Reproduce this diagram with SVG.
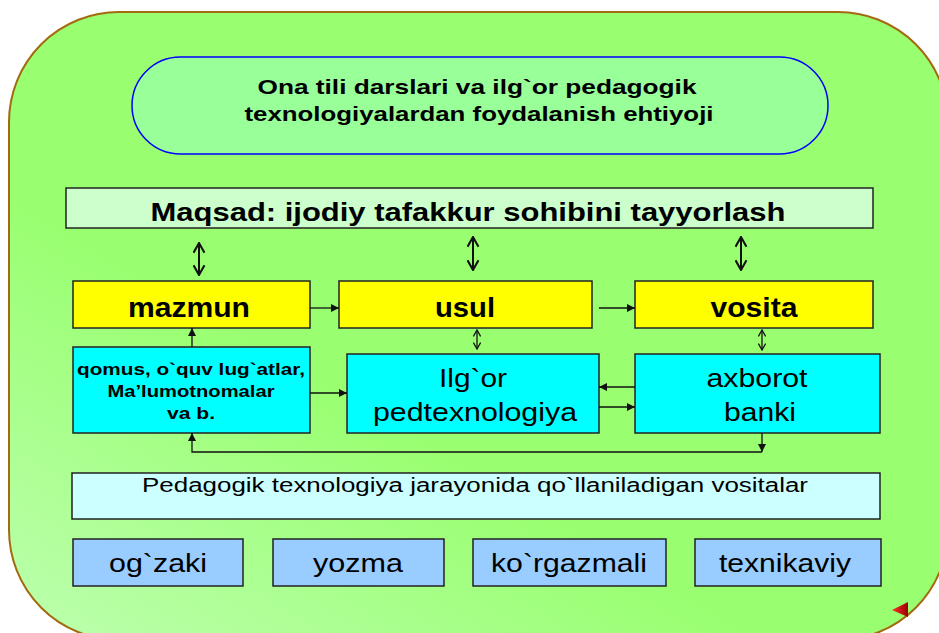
<svg xmlns="http://www.w3.org/2000/svg" width="939" height="633" viewBox="0 0 939 633">
<style>
  text { font-family: "Liberation Sans", Arial, sans-serif; fill: #000; text-anchor: middle; }
  .b { font-weight: bold; }
  .box { stroke: #222; stroke-width: 1.5; }
  .yel { fill: #FFFF00; }
  .cyan { fill: #00FFFF; }
  .blue { fill: #99CCFF; }
  .conn { stroke: #111; stroke-width: 1.3; fill: none; }
  .dbl { stroke: #111; stroke-width: 2; fill: none; }
</style>
<defs>
  <linearGradient id="bg" x1="0" y1="1" x2="0.35" y2="0.6">
    <stop offset="0" stop-color="#BDFFB0"/>
    <stop offset="1" stop-color="#99FF70"/>
  </linearGradient>
  <linearGradient id="red" x1="0" y1="0" x2="1" y2="0">
    <stop offset="0" stop-color="#FF3030"/>
    <stop offset="1" stop-color="#990000"/>
  </linearGradient>
  <marker id="ah" viewBox="0 0 10 10" refX="10" refY="5" markerWidth="8" markerHeight="8" markerUnits="userSpaceOnUse" orient="auto">
    <path d="M0,0 L10,5 L0,10 z" fill="#111"/>
  </marker>
  <marker id="ov" viewBox="0 0 10 10" refX="9" refY="5" markerWidth="13" markerHeight="13" markerUnits="userSpaceOnUse" orient="auto-start-reverse">
    <path d="M1.5,0.8 L9,5 L1.5,9.2" fill="none" stroke="#111" stroke-width="1.6"/>
  </marker>
  <marker id="ovs" viewBox="0 0 10 10" refX="9" refY="5" markerWidth="8" markerHeight="8" markerUnits="userSpaceOnUse" orient="auto-start-reverse">
    <path d="M1,0.5 L9,5 L1,9.5" fill="none" stroke="#111" stroke-width="1.6"/>
  </marker>
</defs>

<g id="background">
  <rect x="9" y="12" width="939" height="628" rx="110" ry="110" fill="url(#bg)" stroke="#A36A10" stroke-width="2"/>
</g>

<g id="title">
  <rect x="132" y="57" width="696" height="97" rx="48.5" ry="48.5" fill="#99FF99" stroke="#0000FF" stroke-width="1.5"/>
  <text class="b" x="477" y="94" font-size="21" textLength="439" lengthAdjust="spacingAndGlyphs">Ona tili darslari va ilg`or pedagogik</text>
  <text class="b" x="479" y="121" font-size="21" textLength="469" lengthAdjust="spacingAndGlyphs">texnologiyalardan foydalanish ehtiyoji</text>
</g>

<g id="maqsad">
  <rect class="box" x="66" y="188" width="807" height="40" fill="#CCFFCC"/>
  <text class="b" x="468" y="221" font-size="26" textLength="635" lengthAdjust="spacingAndGlyphs">Maqsad: ijodiy tafakkur sohibini tayyorlash</text>
</g>

<g id="mazmun">
  <rect class="box yel" x="73" y="281" width="237" height="47"/>
  <text class="b" x="189" y="317" font-size="27" textLength="122" lengthAdjust="spacingAndGlyphs">mazmun</text>
</g>
<g id="usul">
  <rect class="box yel" x="339" y="281" width="253" height="47"/>
  <text class="b" x="465" y="317" font-size="27" textLength="60" lengthAdjust="spacingAndGlyphs">usul</text>
</g>
<g id="vosita">
  <rect class="box yel" x="635" y="281" width="238" height="47"/>
  <text class="b" x="754" y="317" font-size="27" textLength="87" lengthAdjust="spacingAndGlyphs">vosita</text>
</g>

<g id="qomus">
  <rect class="box cyan" x="73" y="347" width="237" height="86"/>
  <text class="b" x="191" y="375" font-size="16" textLength="228" lengthAdjust="spacingAndGlyphs">qomus, o`quv lug`atlar,</text>
  <text class="b" x="191" y="397" font-size="16" textLength="167" lengthAdjust="spacingAndGlyphs">Ma’lumotnomalar</text>
  <text class="b" x="191" y="419" font-size="16" textLength="48" lengthAdjust="spacingAndGlyphs">va b.</text>
</g>
<g id="ilgor">
  <rect class="box cyan" x="347" y="354" width="252" height="79"/>
  <text x="473" y="387" font-size="26" textLength="68" lengthAdjust="spacingAndGlyphs">Ilg`or</text>
  <text x="475" y="421" font-size="26" textLength="204" lengthAdjust="spacingAndGlyphs">pedtexnologiya</text>
</g>
<g id="axborot">
  <rect class="box cyan" x="635" y="354" width="245" height="79"/>
  <text x="757" y="387" font-size="26" textLength="101" lengthAdjust="spacingAndGlyphs">axborot</text>
  <text x="760" y="421" font-size="26" textLength="72" lengthAdjust="spacingAndGlyphs">banki</text>
</g>

<g id="pedagogik">
  <rect class="box" x="72" y="473" width="808" height="46" fill="#CCFFFF"/>
  <text x="475" y="492" font-size="20" textLength="666" lengthAdjust="spacingAndGlyphs">Pedagogik texnologiya jarayonida qo`llaniladigan vositalar</text>
</g>

<g id="ogzaki">
  <rect class="box blue" x="73" y="539" width="170" height="47"/>
  <text x="158" y="572" font-size="26" textLength="98" lengthAdjust="spacingAndGlyphs">og`zaki</text>
</g>
<g id="yozma">
  <rect class="box blue" x="273" y="539" width="171" height="47"/>
  <text x="358" y="572" font-size="26" textLength="90" lengthAdjust="spacingAndGlyphs">yozma</text>
</g>
<g id="korgazmali">
  <rect class="box blue" x="473" y="539" width="193" height="47"/>
  <text x="569" y="572" font-size="26" textLength="156" lengthAdjust="spacingAndGlyphs">ko`rgazmali</text>
</g>
<g id="texnikaviy">
  <rect class="box blue" x="695" y="539" width="186" height="47"/>
  <text x="785" y="572" font-size="26" textLength="132" lengthAdjust="spacingAndGlyphs">texnikaviy</text>
</g>

<g id="connectors">
  <line class="dbl" x1="199" y1="243" x2="199" y2="275" marker-start="url(#ov)" marker-end="url(#ov)"/>
  <line class="dbl" x1="473" y1="237" x2="473" y2="270" marker-start="url(#ov)" marker-end="url(#ov)"/>
  <line class="dbl" x1="741" y1="237" x2="741" y2="270" marker-start="url(#ov)" marker-end="url(#ov)"/>

  <line class="conn" x1="310" y1="308" x2="339" y2="308" marker-end="url(#ah)"/>
  <line class="conn" x1="599" y1="308" x2="635" y2="308" marker-end="url(#ah)"/>

  <line class="conn" x1="192" y1="347" x2="192" y2="328" marker-end="url(#ah)"/>
  <line class="conn" x1="477" y1="330" x2="477" y2="349" marker-start="url(#ovs)" marker-end="url(#ovs)"/>
  <line class="conn" x1="762" y1="330" x2="762" y2="350" marker-start="url(#ovs)" marker-end="url(#ovs)"/>

  <line class="conn" x1="310" y1="393" x2="347" y2="393" marker-end="url(#ah)"/>
  <line class="conn" x1="635" y1="387" x2="599" y2="387" marker-end="url(#ah)"/>
  <line class="conn" x1="599" y1="407" x2="635" y2="407" marker-end="url(#ah)"/>

  <line class="conn" x1="762" y1="433" x2="762" y2="452" marker-end="url(#ah)"/>
  <polyline class="conn" points="762,452 192,452 192,433" marker-end="url(#ah)"/>
</g>

<g id="nav">
  <path d="M892,610 L908,602 L908,617 z" fill="url(#red)"/>
</g>
</svg>
